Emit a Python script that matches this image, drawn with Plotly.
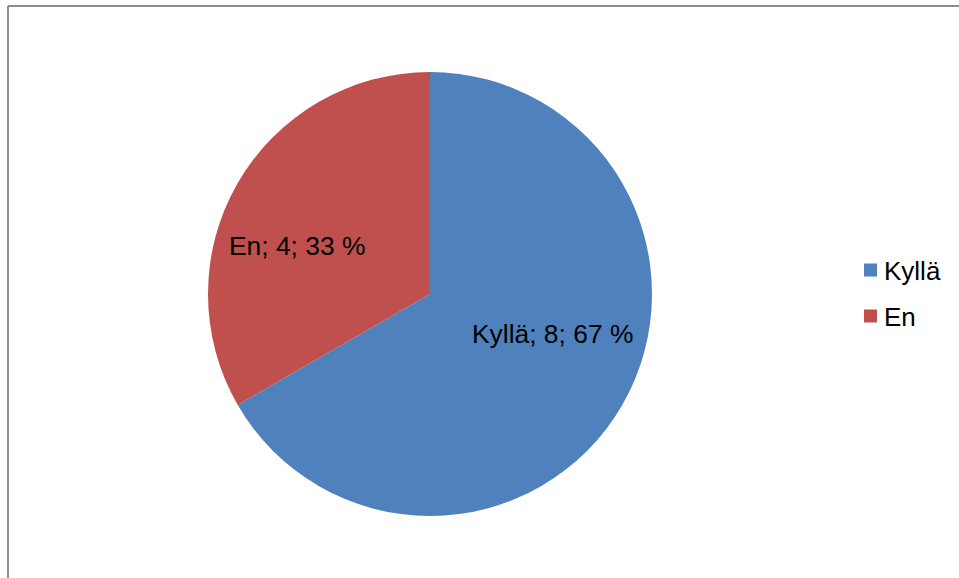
import plotly.graph_objects as go

# Survey answers
labels = ["Kyllä", "En"]
values = [8, 4]
colors = ["#4F81BD", "#C0504D"]

total = sum(values)
texts = [f"{l}; {v}; {round(100 * v / total)} %" for l, v in zip(labels, values)]

W, H = 959, 578
cx, cy, r = 430, 294, 222
FONT = "Liberation Sans, Arial, sans-serif"

# Data label anchor points, as pixel offsets from the pie centre
label_offsets = [(122, 40), (-133, -48)]

fig = go.Figure(
    go.Pie(
        labels=labels,
        values=values,
        textinfo="none",
        marker=dict(colors=colors, line=dict(width=0)),
        sort=False,
        direction="clockwise",
        rotation=0,
        hoverinfo="label+value+percent",
        showlegend=False,
        domain=dict(
            x=[(cx - r) / W, (cx + r) / W],
            y=[(H - cy - r) / H, (H - cy + r) / H],
        ),
    )
)

def px(x):
    return x / W

def py(y):
    return 1 - y / H

# Data labels
for t, (dx, dy) in zip(texts, label_offsets):
    fig.add_annotation(
        x=px(cx + dx), y=py(cy + dy), xref="paper", yref="paper",
        text=t, showarrow=False, xanchor="center", yanchor="middle",
        font=dict(family=FONT, size=26.4, color="#000000"),
    )

# Legend: colour swatches and entry names
legend_x, legend_y0, legend_step, sw = 864, 270, 46, 13
for i, (name, c) in enumerate(zip(labels, colors)):
    yc = legend_y0 + i * legend_step
    fig.add_shape(type="rect", xref="paper", yref="paper",
                  x0=px(legend_x), x1=px(legend_x + sw),
                  y0=py(yc + sw / 2), y1=py(yc - sw / 2),
                  fillcolor=c, line=dict(width=0))
    fig.add_annotation(
        x=px(legend_x + 18), y=py(yc + 1), xref="paper", yref="paper",
        text=name, showarrow=False, xanchor="left", yanchor="middle",
        font=dict(family=FONT, size=26, color="#000000"),
    )

# Chart area border (top and left edges)
border = dict(color="#8C8C8C", width=2)
fig.add_shape(type="line", xref="paper", yref="paper",
              x0=px(8), x1=1, y0=py(6), y1=py(6), line=border)
fig.add_shape(type="line", xref="paper", yref="paper",
              x0=px(8), x1=px(8), y0=0, y1=py(6), line=border)

fig.update_layout(
    width=W,
    height=H,
    margin=dict(l=0, r=0, t=0, b=0),
    paper_bgcolor="#FFFFFF",
    plot_bgcolor="#FFFFFF",
    showlegend=False,
)

fig.write_html("out.html")
